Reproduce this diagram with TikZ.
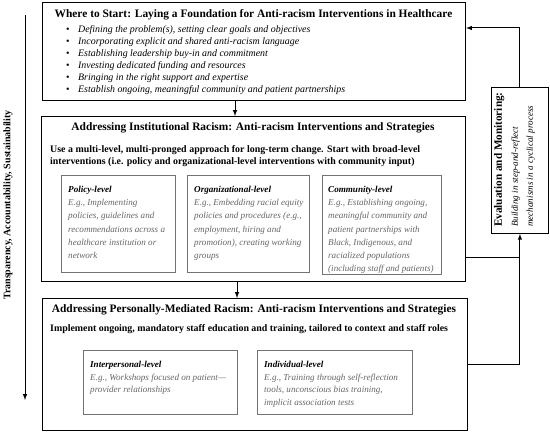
\documentclass[tikz,border=0pt]{standalone}
\usepackage{fontspec}
\setmainfont{Liberation Serif}
\usepackage{xcolor}

\begin{document}
\begin{tikzpicture}[x=1pt,y=-1pt,
  bigbox/.style={draw,line width=1.1pt,anchor=north west,inner sep=0},
  levelbox/.style={draw=black!55,line width=0.9pt,anchor=north west,inner sep=0},
  txt/.style={anchor=north west,inner sep=0,align=left},
  head/.style={inner sep=0,font=\fontsize{11.4}{13}\selectfont\bfseries},
  lead/.style={txt,font=\fontsize{9.9}{12}\selectfont\bfseries},
  item/.style={txt,font=\fontsize{9.9}{12}\selectfont\itshape},
  level/.style={txt,text=black!60,font=\fontsize{9.1}{13.2}\selectfont\itshape},
  arr/.style={-latex,line width=1pt}]
\useasboundingbox (0,0) rectangle (550,433);

\node[bigbox,minimum width=423pt,minimum height=98pt] (start) at (42,2) {};
\node[head] (starthead) at (253.5,15) {Where to Start: Laying a Foundation for Anti-racism Interventions in Healthcare};
\node[item] (startlist) at (66,25.5) {%
  \makebox[12pt][l]{\upshape\textbullet}Defining the problem(s), setting clear goals and objectives\\
  \makebox[12pt][l]{\upshape\textbullet}Incorporating explicit and shared anti-racism language\\
  \makebox[12pt][l]{\upshape\textbullet}Establishing leadership buy-in and commitment\\
  \makebox[12pt][l]{\upshape\textbullet}Investing dedicated funding and resources\\
  \makebox[12pt][l]{\upshape\textbullet}Bringing in the right support and expertise\\
  \makebox[12pt][l]{\upshape\textbullet}Establish ongoing, meaningful community and patient partnerships};

\node[bigbox,minimum width=424pt,minimum height=165pt] (inst) at (41,116) {};
\node[head] (insthead) at (253,128) {Addressing Institutional Racism: Anti-racism Interventions and Strategies};
\node[lead] (instlead) at (50,145.5) {\makebox[370pt][s]{Use a multi-level, multi-pronged approach for long-term change. Start with broad-level}\\
  interventions (i.e. policy and organizational-level interventions with community input)};

\node[levelbox,minimum width=114pt,minimum height=97pt] (policy) at (61,175) {};
\node[level] (policytxt) at (68,186) {{\color{black}\bfseries Policy-level}\\
  E.g., Implementing\\ policies, guidelines and\\ recommendations across a\\ healthcare institution or\\ network};
\node[levelbox,minimum width=122pt,minimum height=97pt] (org) at (187,175) {};
\node[level] (orgtxt) at (194,186) {{\color{black}\bfseries Organizational-level}\\
  E.g., Embedding racial equity\\ policies and procedures (e.g.,\\ employment, hiring and\\ promotion), creating working\\ groups};
\node[levelbox,minimum width=119pt,minimum height=99pt] (comm) at (322,175) {};
\node[level] (commtxt) at (328,186) {{\color{black}\bfseries Community-level}\\
  E.g., Establishing ongoing,\\ meaningful community and\\ patient partnerships with\\ Black, Indigenous, and\\ racialized populations\\ (including staff and patients)};

\node[bigbox,minimum width=425pt,minimum height=132pt] (pers) at (42,298) {};
\node[head] (pershead) at (254,310) {Addressing Personally-Mediated Racism: Anti-racism Interventions and Strategies};
\node[lead] (perslead) at (50,324.5) {Implement ongoing, mandatory staff education and training, tailored to context and staff roles};

\node[levelbox,minimum width=154pt,minimum height=64pt] (inter) at (83,350) {};
\node[level] (intertxt) at (90,361) {{\color{black}\bfseries Interpersonal-level}\\[-0.5pt]
  E.g., Workshops focused on patient---\\[-0.5pt] provider relationships};
\node[levelbox,minimum width=155pt,minimum height=64pt] (indiv) at (257,350) {};
\node[level] (indivtxt) at (264,361) {{\color{black}\bfseries Individual-level}\\[-0.5pt]
  E.g., Training through self-reflection\\[-0.5pt] tools, unconscious bias training,\\[-0.5pt] implicit association tests};

\node[bigbox,line width=0.9pt,minimum width=57pt,minimum height=146pt] (eval) at (491,87) {};
\node[txt,rotate=90,font=\fontsize{9.1}{15}\selectfont\itshape] (evaltxt) at (494,227) {{\fontsize{11.2}{13}\selectfont\upshape\bfseries Evaluation and Monitoring:}\\[1pt]
  Building in step-and-reflect\\ mechanisms in a cyclical process};

\coordinate (d1) at (235,0);
\coordinate (d2) at (237,0);
\coordinate (back) at (0,28);
\coordinate (fromins) at (0,258);
\coordinate (frompers) at (0,365);
\draw[arr] (start.south -| d1) -- (inst.north -| d1);
\draw[arr] (inst.south -| d2) -- (pers.north -| d2);
\draw[arr] (eval.north) |- (start.east |- back);
\draw[arr] (pers.east |- frompers) -| (eval.south);
\draw[line width=1pt] (inst.east |- fromins) -- (eval.south |- fromins);

\coordinate (ltop) at (25,15);
\coordinate (lbot) at (25,400);
\draw[arr] (ltop) -- (lbot);
\node[head,rotate=90,font=\fontsize{10}{12}\selectfont\bfseries] (values) at (8,205) {Transparency, Accountability, Sustainability};
\end{tikzpicture}
\end{document}
